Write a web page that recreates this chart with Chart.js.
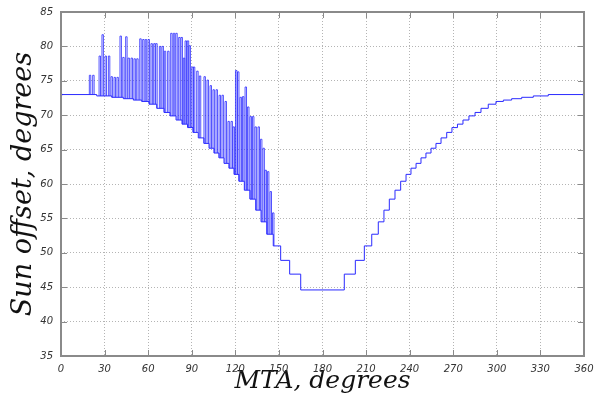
<!DOCTYPE html>
<html>
<head>
<meta charset="utf-8">
<script src="https://cdn.jsdelivr.net/npm/chart.js@4.4.0/dist/chart.umd.min.js"></script>
<style>
  html, body { margin: 0; padding: 0; background: #fff; }
</style>
</head>
<body>
<canvas id="chart" width="597" height="402"></canvas>
<script>
// lower envelope: MTA where a new level starts, and the level (degrees)
const baseX = [0, 24.6, 34.9, 42.9, 49.8, 55.5, 60.6, 65.9, 70.9, 75.0,
  79.2, 83.3, 87.1, 90.9, 94.5, 98.4, 101.9, 105.3, 108.8, 112.2,
  115.6, 119.1, 122.5, 126.2, 130.1, 134.0, 137.7, 141.6, 146.1, 151.2,
  157.4, 165.0, 195.0, 202.6, 208.8, 213.9, 218.4, 222.3, 226.0, 229.9,
  233.8, 237.5, 240.9, 244.4, 247.8, 251.2, 254.7, 258.1, 261.6, 265.5,
  269.1, 272.9, 276.7, 280.8, 285.0, 289.1, 294.1, 299.4, 304.5, 310.2,
  317.1, 325.1, 335.4];
const baseY = [73.0, 72.8, 72.6, 72.4, 72.2, 72.0, 71.6, 71.0, 70.4, 69.9,
  69.3, 68.7, 68.2, 67.5, 66.7, 65.9, 65.2, 64.5, 63.8, 63.0,
  62.3, 61.4, 60.4, 59.1, 57.8, 56.2, 54.5, 52.7, 51.0, 48.9,
  46.9, 44.6, 46.9, 48.9, 51.0, 52.7, 54.5, 56.2, 57.8, 59.1,
  60.4, 61.4, 62.3, 63.0, 63.8, 64.5, 65.2, 65.9, 66.7, 67.5,
  68.2, 68.7, 69.3, 69.9, 70.4, 71.0, 71.6, 72.0, 72.2, 72.4,
  72.6, 72.8, 73.0];

// spikes above the envelope: MTA and top value
const spikeX = [19.5, 21.8, 26.2, 28.2, 30.3, 32.6, 34.4, 36.5, 38.5, 40.6,
  42.5, 44.5, 46.1, 48.2, 50.2, 52.1, 54.2, 56.2, 58.0, 59.9,
  61.9, 63.8, 65.2, 67.7, 69.5, 71.1, 73.4, 75.5, 77.3, 79.0,
  81.0, 82.6, 84.2, 85.4, 86.9, 88.1, 90.0, 91.1, 93.4, 95.2,
  98.4, 100.5, 102.6, 104.6, 106.7, 108.8, 110.8, 112.9, 114.9, 117.0,
  118.4, 120.1, 121.5, 123.2, 124.9, 126.7, 128.4, 130.1, 131.8, 133.5,
  135.6, 137.3, 139.0, 140.4, 142.1, 143.9, 145.6];
const spikeTop = [75.8, 75.8, 78.6, 81.7, 78.6, 78.6, 75.6, 75.5, 75.5, 81.5,
  78.4, 81.4, 78.3, 78.3, 78.2, 78.2, 81.1, 81.0, 81.0, 81.0,
  80.4, 80.4, 80.4, 80.0, 80.0, 79.3, 79.3, 81.9, 81.9, 81.9,
  81.3, 81.3, 78.3, 80.8, 80.8, 80.1, 77.0, 77.0, 76.4, 75.7,
  75.6, 75.1, 74.3, 73.7, 73.7, 72.9, 72.9, 72.0, 69.1, 69.1,
  68.3, 76.5, 76.3, 72.6, 72.7, 74.1, 71.2, 69.8, 69.8, 68.3,
  68.3, 66.5, 65.2, 62.0, 61.8, 58.9, 55.8];

const xTicks = [0, 30, 60, 90, 120, 150, 180, 210, 240, 270, 300, 330, 360];
const yTicks = [35, 40, 45, 50, 55, 60, 65, 70, 75, 80, 85];

const PULSE = 1.0; // spike width in degrees of MTA

function baseAt(v) {
  let b = baseY[0];
  for (let i = 0; i < baseX.length; i++) if (baseX[i] <= v) b = baseY[i];
  return b;
}

const basePts = baseX.map((v, i) => ({x: v, y: baseY[i]}));
basePts.push({x: 360, y: baseY[baseY.length - 1]});

const spikePts = [];
spikeX.forEach((v, i) => {
  const w = v + PULSE;
  spikePts.push({x: v, y: baseAt(v)}, {x: v, y: spikeTop[i]},
                {x: w, y: spikeTop[i]}, {x: w, y: baseAt(w)}, {x: w, y: null});
});

const frame = {
  id: 'frame',
  afterDatasetsDraw(chart) {
    const {ctx, chartArea: a} = chart;
    const x = chart.scales.x, y = chart.scales.y;
    ctx.save();
    ctx.strokeStyle = '#8a8a8a';
    ctx.lineWidth = 1;
    ctx.beginPath();
    x.ticks.forEach(t => {
      const p = Math.round(x.getPixelForValue(t.value)) + 0.5;
      ctx.moveTo(p, a.bottom); ctx.lineTo(p, a.bottom - 6);
      ctx.moveTo(p, a.top); ctx.lineTo(p, a.top + 6);
    });
    y.ticks.forEach(t => {
      const p = Math.round(y.getPixelForValue(t.value)) + 0.5;
      ctx.moveTo(a.left, p); ctx.lineTo(a.left + 6, p);
      ctx.moveTo(a.right, p); ctx.lineTo(a.right - 6, p);
    });
    ctx.stroke();
    ctx.lineWidth = 2;
    ctx.strokeRect(a.left, a.top, a.right - a.left, a.bottom - a.top);
    ctx.restore();
  }
};

const tickFont = {family: 'DejaVu Sans', size: 10, style: 'italic'};

new Chart(document.getElementById('chart'), {
  type: 'line',
  data: {
    datasets: [
      {
        data: basePts,
        stepped: true,
        borderColor: '#2a2aff',
        borderWidth: 1,
        pointRadius: ctx => (ctx.dataIndex === 0 || ctx.dataIndex === basePts.length - 1) ? 1.6 : 0,
        pointStyle: 'rect',
        pointBackgroundColor: '#0000cc',
        pointBorderWidth: 0,
      },
      {
        data: spikePts,
        stepped: true,
        spanGaps: false,
        borderColor: 'rgba(40,40,255,0.8)',
        borderWidth: 1,
        pointRadius: 0,
      },
    ],
  },
  plugins: [frame],
  options: {
    responsive: false,
    animation: false,
    devicePixelRatio: 1,
    layout: { padding: {top: 12, right: 13, left: 0, bottom: 0} },
    plugins: {
      legend: {display: false},
      tooltip: {enabled: false},
    },
    scales: {
      x: {
        type: 'linear',
        min: 0,
        max: 360,
        afterBuildTicks: s => { s.ticks = xTicks.map(v => ({value: v})); },
        afterFit: s => { s.height = 46; s.paddingRight = 0; s.paddingLeft = 0; },
        grid: {color: '#b4b4b4', lineWidth: 1, drawTicks: false},
        border: {display: false, dash: [1, 2]},
        ticks: {font: tickFont, color: '#333', padding: 7, maxRotation: 0, autoSkip: false},
        title: {display: true, text: 'MTA, degrees', font: {family: 'DejaVu Serif', size: 25, style: 'italic'},
                color: '#111', padding: {top: 0, bottom: 6}},
      },
      y: {
        min: 35,
        max: 85,
        afterBuildTicks: s => { s.ticks = yTicks.map(v => ({value: v})); },
        afterFit: s => { s.width = 61; s.paddingTop = 0; s.paddingBottom = 0; },
        grid: {color: '#b4b4b4', lineWidth: 1, drawTicks: false},
        border: {display: false, dash: [1, 2]},
        ticks: {font: tickFont, color: '#333', padding: 8, autoSkip: false},
        title: {display: true, text: 'Sun offset, degrees', font: {family: 'DejaVu Serif', size: 27, style: 'italic'},
                color: '#111', padding: {top: 8, bottom: 0}},
      },
    },
  },
});
</script>
</body>
</html>
